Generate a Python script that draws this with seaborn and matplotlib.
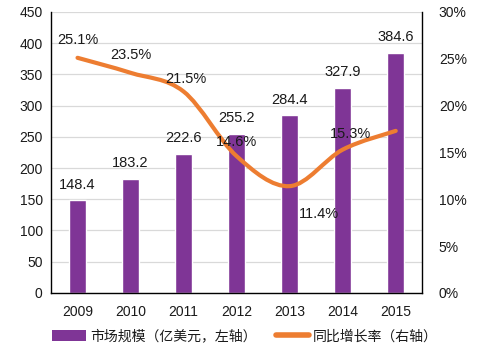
import matplotlib
matplotlib.use("Agg")
import matplotlib.pyplot as plt
import seaborn as sns
import pandas as pd
import numpy as np
from matplotlib.path import Path
from matplotlib.patches import PathPatch
from matplotlib.lines import Line2D
from matplotlib.patches import Patch

years = ["2009", "2010", "2011", "2012", "2013", "2014", "2015"]
market = [148.4, 183.2, 222.6, 255.2, 284.4, 327.9, 384.6]
growth = [25.1, 23.5, 21.5, 14.6, 11.4, 15.3, 17.3]
bar_label = "市场规模（亿美元，左轴）"
line_label = "同比增长率（右轴）"

sns.set_theme(style="white")
plt.rcParams['font.family'] = ['Liberation Sans', 'Noto Sans CJK SC', 'DejaVu Sans']

purple = "#7F3596"
orange = "#ED7D31"

fig = plt.figure(figsize=(4.79, 3.5), dpi=100)
ax = fig.add_axes([0.1065, 0.163, 0.775, 0.803])
df = pd.DataFrame({"year": years, "market": market, "growth": growth})
sns.barplot(data=df, x="year", y="market", color=purple, width=0.32, ax=ax, saturation=1)
ax.set_ylim(0, 450)
ax.set_yticks(range(0, 451, 50))
ax.set_xlim(-0.5, 6.5)
ax.set_xlabel("")
ax.set_ylabel("")
ax.yaxis.grid(True, color="#D9D9D9", linewidth=0.9)
ax.set_axisbelow(True)
for s in ["left", "bottom"]:
    ax.spines[s].set_color("black")
    ax.spines[s].set_linewidth(1.0)
ax.spines["top"].set_visible(False)
ax.spines["right"].set_visible(False)
ax.tick_params(axis="both", labelsize=10, colors="#1a1a1a", length=0, pad=6)
ax.tick_params(axis="x", pad=9)

for i, v in enumerate(market):
    ax.text(i, v + 14, f"{v}", ha="center", va="bottom", fontsize=10.5, color="#1a1a1a")

ax2 = ax.twinx()
ax2.set_ylim(0, 30)
ax2.set_yticks(range(0, 31, 5))
ax2.set_yticklabels([f"{t}%" for t in range(0, 31, 5)])
ax2.tick_params(axis="y", labelsize=10, colors="#1a1a1a", length=0, pad=12)
for s in ["top", "left", "bottom"]:
    ax2.spines[s].set_visible(False)
ax2.spines["right"].set_color("black")
ax2.spines["right"].set_linewidth(1.0)

# smooth (Catmull-Rom style bezier) rendering through the data points
xs = np.arange(len(growth), dtype=float)
ys = np.array(growth, dtype=float)
verts = [(xs[0], ys[0])]
codes = [Path.MOVETO]
t = 1.0 / 6.0
for i in range(len(xs) - 1):
    p0 = (xs[max(i - 1, 0)], ys[max(i - 1, 0)])
    p1 = (xs[i], ys[i])
    p2 = (xs[i + 1], ys[i + 1])
    p3 = (xs[min(i + 2, len(xs) - 1)], ys[min(i + 2, len(xs) - 1)])
    c1 = (p1[0] + (p2[0] - p0[0]) * t, p1[1] + (p2[1] - p0[1]) * t)
    c2 = (p2[0] - (p3[0] - p1[0]) * t, p2[1] - (p3[1] - p1[1]) * t)
    verts += [c1, c2, p2]
    codes += [Path.CURVE4] * 3
path = Path(verts, codes)
ax2.add_patch(PathPatch(path, facecolor="none", edgecolor=orange, linewidth=3, capstyle="round", joinstyle="round"))

offsets = [(0, 13, "center"), (0, 13, "center"), (0.05, 9, "center"), (0, 10, "center"),
           (0.55, -20, "center"), (0.15, 11, "center"), (0.64, 0, "center")]
for i, g in enumerate(growth):
    dx, dy, ha = offsets[i]
    ax2.annotate(f"{g}%", xy=(i + dx, g), xytext=(0, dy), textcoords="offset points",
                 ha=ha, va="center", fontsize=10.5, color="#1a1a1a")

handles = [Patch(facecolor=purple, edgecolor="none"),
           Line2D([0], [0], color=orange, linewidth=4, solid_capstyle="round")]
fig.legend(handles, [bar_label, line_label], loc="lower left", bbox_to_anchor=(0.083, -0.017),
           ncol=2, frameon=False, fontsize=10, handlelength=2.4, handleheight=0.8,
           columnspacing=1.4, handletextpad=0.3, labelcolor="#1a1a1a")

fig.savefig("out.png", dpi=100)
